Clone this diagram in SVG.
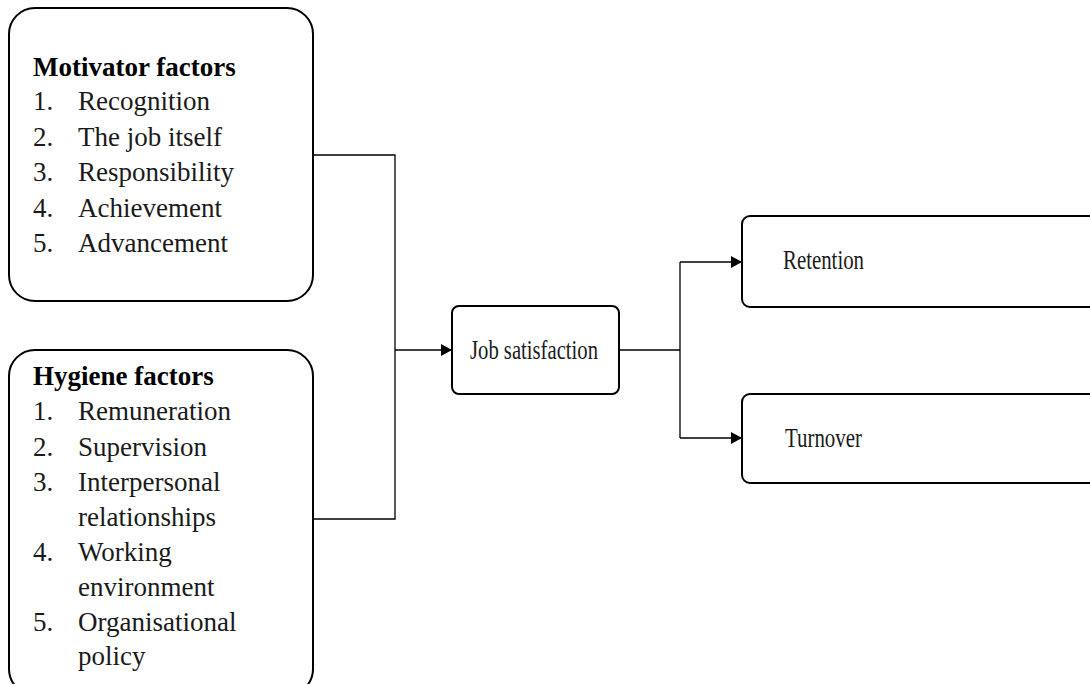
<svg xmlns="http://www.w3.org/2000/svg" width="1090" height="684" viewBox="0 0 1090 684">
<style>
.box{fill:#fff;stroke:#000;stroke-width:2}
.t{font-size:27px;fill:#1a1a1a}
.b{font-weight:bold;fill:#000}
.c{fill:none;stroke:#000;stroke-width:1.3}
</style>
<defs>
<marker id="ah" viewBox="0 0 11 12" refX="11" refY="6" markerWidth="11" markerHeight="12" markerUnits="userSpaceOnUse" orient="auto">
<path d="M0,0 L11,6 L0,12 z" fill="#000"/>
</marker>
</defs>
<rect width="1090" height="684" fill="#fff"/>
<g id="connectors">
<polyline class="c" points="313,155 395,155 395,519 313,519"/>
<line class="c" x1="395" y1="350" x2="452" y2="350" marker-end="url(#ah)"/>
<polyline class="c" points="620,350 680,350"/>
<line class="c" x1="680" y1="262" x2="680" y2="438"/>
<line class="c" x1="680" y1="262" x2="742" y2="262" marker-end="url(#ah)"/>
<line class="c" x1="680" y1="438" x2="742" y2="438" marker-end="url(#ah)"/>
</g>
<g font-family="'Liberation Serif','Times New Roman','DejaVu Serif',Times,serif">
<g id="motivator">
<rect class="box" x="9" y="8" width="304" height="293" rx="26"/>
<text class="t b" x="33" y="76">Motivator factors</text>
<text class="t" x="33" y="110">1.</text><text class="t" x="78" y="110">Recognition</text>
<text class="t" x="33" y="145.5">2.</text><text class="t" x="78" y="145.5">The job itself</text>
<text class="t" x="33" y="181">3.</text><text class="t" x="78" y="181">Responsibility</text>
<text class="t" x="33" y="216.5">4.</text><text class="t" x="78" y="216.5">Achievement</text>
<text class="t" x="33" y="252">5.</text><text class="t" x="78" y="252">Advancement</text>
</g>
<g id="hygiene">
<rect class="box" x="9" y="350" width="304" height="345" rx="26"/>
<text class="t b" x="33" y="385">Hygiene factors</text>
<text class="t" x="33" y="420">1.</text><text class="t" x="78" y="420">Remuneration</text>
<text class="t" x="33" y="456">2.</text><text class="t" x="78" y="456">Supervision</text>
<text class="t" x="33" y="491">3.</text><text class="t" x="78" y="491">Interpersonal</text>
<text class="t" x="78" y="526">relationships</text>
<text class="t" x="33" y="561">4.</text><text class="t" x="78" y="561">Working</text>
<text class="t" x="78" y="595.5">environment</text>
<text class="t" x="33" y="631">5.</text><text class="t" x="78" y="631">Organisational</text>
<text class="t" x="78" y="665">policy</text>
</g>
<g id="job-satisfaction">
<rect class="box" x="452" y="306" width="167" height="88" rx="7"/>
<text class="t" x="470" y="359" textLength="128" lengthAdjust="spacingAndGlyphs">Job satisfaction</text>
</g>
<g id="retention">
<rect class="box" x="742" y="216" width="360" height="91" rx="8"/>
<text class="t" x="783" y="269" textLength="81" lengthAdjust="spacingAndGlyphs">Retention</text>
</g>
<g id="turnover">
<rect class="box" x="742" y="394" width="360" height="89" rx="8"/>
<text class="t" x="785" y="447" textLength="77" lengthAdjust="spacingAndGlyphs">Turnover</text>
</g>
</g>
</svg>
